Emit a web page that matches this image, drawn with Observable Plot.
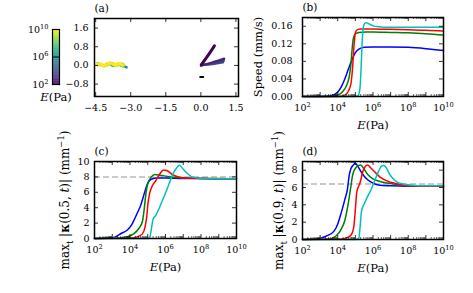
<!DOCTYPE html>
<html><head><meta charset="utf-8">
<script src="https://cdn.jsdelivr.net/npm/d3@7"></script>
<script src="https://cdn.jsdelivr.net/npm/@observablehq/plot@0.6"></script>
<style>
html,body{margin:0;padding:0;background:#fff;}
#chart{position:relative;width:473px;height:293px;overflow:hidden;background:#fff;}
#chart svg{position:absolute;left:0;top:0;font-family:'DejaVu Serif',serif !important;}
#chart svg text{font-family:'DejaVu Serif',serif;}
</style></head><body><div id="chart"></div>
<script>
const W = 473, H = 293;
const FONT = "DejaVu Serif";
const TICK_FS = 9.5, LABEL_FS = 11.5, TITLE_FS = 10.5;

// ---------- colours of the four series ----------
const seriesColors = ["#0000ff", "#008000", "#ff0000", "#00bfbf"];

// ---------- panel (b): speed (mm/s) vs log10 E ----------
const bBlueLog  = [2, 3.0, 3.5, 3.8, 4.0, 4.2, 4.4, 4.6, 4.8, 5.0, 5.2, 5.5, 6.0, 7, 8, 9, 10];
const bBlueVal  = [0, 0, 0.001, 0.004, 0.010, 0.022, 0.040, 0.062, 0.083, 0.100, 0.108, 0.112, 0.113, 0.113, 0.112, 0.109, 0.105];
const bGreenLog = [2, 3.5, 4.0, 4.3, 4.5, 4.65, 4.75, 4.82, 4.9, 5.0, 5.2, 5.6, 6, 7, 8, 9, 10];
const bGreenVal = [0, 0, 0.003, 0.012, 0.025, 0.045, 0.075, 0.110, 0.135, 0.143, 0.146, 0.147, 0.147, 0.146, 0.145, 0.143, 0.140];
const bRedLog   = [2, 4.0, 4.4, 4.6, 4.75, 4.85, 4.92, 4.98, 5.05, 5.15, 5.3, 5.6, 6, 7, 8, 9, 10];
const bRedVal   = [0, 0, 0.003, 0.012, 0.030, 0.070, 0.115, 0.140, 0.150, 0.153, 0.154, 0.154, 0.154, 0.153, 0.152, 0.151, 0.149];
const bCyanLog  = [2, 5.0, 5.15, 5.25, 5.32, 5.38, 5.45, 5.52, 5.6, 5.7, 5.85, 6.0, 6.3, 6.6, 7, 8, 9, 10];
const bCyanVal  = [0, 0, 0.002, 0.015, 0.06, 0.12, 0.158, 0.166, 0.168, 0.167, 0.164, 0.161, 0.159, 0.158, 0.158, 0.158, 0.158, 0.158];

// ---------- panel (c): max_t |kappa(0.5,t)| ----------
const cBlueLog  = [2, 2.9, 3.2, 3.5, 3.85, 4.1, 4.25, 4.45, 4.6, 4.8, 5.0, 5.2, 5.5, 6, 7, 8, 9, 10];
const cBlueVal  = [0, 0.05, 0.25, 0.65, 1.1, 1.8, 2.5, 3.5, 4.3, 5.8, 7.2, 7.7, 7.85, 7.85, 7.8, 7.8, 7.75, 7.75];
const cGreenLog = [2, 3.5, 3.9, 4.2, 4.5, 4.7, 4.8, 4.88, 4.95, 5.05, 5.2, 5.4, 5.7, 6.0, 6.5, 7, 8, 9, 10];
const cGreenVal = [0, 0.05, 0.25, 0.6, 1.3, 2.2, 3.8, 5.5, 6.6, 7.4, 8.0, 8.3, 8.2, 8.1, 7.95, 7.85, 7.8, 7.8, 7.75];
const cRedLog   = [2, 4.0, 4.4, 4.7, 4.85, 4.95, 5.0, 5.1, 5.25, 5.45, 5.65, 5.9, 6.1, 6.4, 6.8, 7.2, 8, 9, 10];
const cRedVal   = [0, 0.05, 0.2, 0.6, 1.5, 3.0, 4.3, 5.8, 6.8, 7.5, 8.3, 8.9, 8.8, 8.3, 7.95, 7.85, 7.8, 7.75, 7.75];
const cCyanLog  = [2, 5.0, 5.12, 5.2, 5.3, 5.45, 5.6, 5.8, 6.0, 6.2, 6.4, 6.6, 6.8, 7.0, 7.2, 7.5, 8, 9, 10];
const cCyanVal  = [0, 0, 0.2, 1.2, 2.5, 3.0, 3.7, 4.8, 5.9, 7.1, 8.3, 9.1, 9.5, 9.0, 8.5, 8.0, 7.8, 7.75, 7.75];
const cRef = 8.0;

// ---------- panel (d): max_t |kappa(0.9,t)| ----------
const dBlueLog  = [2, 2.8, 3.1, 3.4, 3.8, 4.0, 4.2, 4.4, 4.55, 4.65, 4.75, 4.85, 5.0, 5.15, 5.3, 5.5, 5.7, 6.0, 6.3, 7, 8, 9, 10];
const dBlueVal  = [0, 0.05, 0.2, 0.45, 1.0, 1.8, 3.1, 4.6, 5.8, 7.4, 8.2, 8.5, 8.8, 8.4, 7.9, 7.3, 6.9, 6.5, 6.3, 6.2, 6.15, 6.15, 6.15];
const dGreenLog = [2, 3.5, 3.9, 4.2, 4.4, 4.6, 4.75, 4.85, 5.0, 5.15, 5.3, 5.5, 5.7, 6.0, 6.4, 7, 7.6, 8, 9, 10];
const dGreenVal = [0, 0.05, 0.4, 1.2, 2.2, 4.2, 6.2, 7.5, 8.2, 8.5, 8.6, 8.1, 7.5, 7.0, 6.7, 6.45, 6.3, 6.2, 6.15, 6.15];
const dRedLog   = [2, 4.2, 4.5, 4.75, 4.9, 5.0, 5.08, 5.2, 5.3, 5.4, 5.55, 5.7, 5.85, 6.05, 6.4, 7, 7.7, 8, 9, 10];
const dRedVal   = [0, 0.05, 0.2, 0.5, 1.3, 3.5, 5.5, 6.2, 6.8, 7.7, 8.4, 8.6, 8.3, 7.9, 7.2, 6.6, 6.3, 6.2, 6.15, 6.15];
const dCyanLog  = [2, 5.05, 5.2, 5.27, 5.35, 5.5, 5.7, 5.9, 6.1, 6.3, 6.5, 6.6, 6.75, 6.9, 7.1, 7.4, 7.7, 8.1, 9, 10];
const dCyanVal  = [0, 0, 0.2, 1.5, 3.3, 4.1, 5.0, 5.8, 6.8, 7.8, 8.5, 8.55, 8.3, 7.7, 7.1, 6.6, 6.4, 6.3, 6.2, 6.2];
const dRef = 6.4;

// ---------- panel (a): swimmer shapes, coloured by log10 E ----------
const aYellowA = [[-4.45,0.05],[-4.3,0.08],[-4.17,-0.01],[-4.05,0.04],[-3.92,0.12],[-3.78,0.06],[-3.68,0.0],[-3.56,0.09],[-3.45,0.06],[-3.35,0.0]];
const aYellowB = [[-4.4,0.01],[-4.25,0.05],[-4.12,-0.03],[-3.98,0.02],[-3.86,0.1],[-3.72,0.07],[-3.6,-0.01],[-3.5,0.05],[-3.38,0.08],[-3.28,0.02]];
const aGreen   = [[-4.42,0.09],[-4.28,0.03],[-4.15,-0.02],[-4.0,0.08],[-3.88,0.06],[-3.74,-0.02],[-3.6,0.04],[-3.47,0.03],[-3.35,-0.03]];
const aTeal    = [[-3.45,0.02],[-3.35,0.0],[-3.25,-0.05],[-3.18,-0.08]];
const aPurple  = [[0.02,0.03],[0.3,0.42],[0.58,0.84]];
const aFanA    = [[0.0,0.0],[0.5,0.14],[1.0,0.30]];
const aFanB    = [[0.0,0.0],[0.5,0.11],[1.0,0.24]];
const aFanC    = [[0.0,0.0],[0.5,0.08],[0.98,0.18]];
const aFanD    = [[0.0,0.0],[0.5,0.05],[0.95,0.12]];
const aDash    = [[-0.03,-0.5],[0.1,-0.5]];
const aShapeLogE = [9.5, 10, 7.5, 6, 2, 2.8, 3.2, 3.6, 4.0];
const aShapeWidth = [2.8, 2.8, 2.6, 2.6, 3, 2, 2, 2, 2];

// ---------- axis ticks ----------
const aXTicks = [-4.5, -3.0, -1.5, 0.0, 1.5];
const aYTicks = [-0.8, 0.0, 0.8, 1.6];
const logMajor = [2, 3, 4, 5, 6, 7, 8, 9, 10];
const logLabels = [2, 4, 6, 8, 10];
const bYTicks = [0, 0.04, 0.08, 0.12, 0.16];
const cYTicks = [0, 2, 4, 6, 8, 10];
const dYTicks = [0, 2, 4, 6, 8];
const cbTicks = [2, 6, 10];

const logMinor = [];
for (let e = 2; e < 10; e++) for (let m = 2; m <= 9; m++) logMinor.push(m * 10 ** e);

function rows(logs, vals) { return logs.map((l, i) => ({E: 10 ** l, v: vals[i]})); }

const baseStyle = {background: "transparent", overflow: "visible", fontFamily: "'DejaVu Serif', serif", fontSize: TICK_FS + "px", color: "black"};
const T = (opts) => ({fontFamily: FONT, lineAnchor: "middle", ...opts});

function framedTicks(fw, fh, xMajor, xMinor, yMajor) {
  const m = [];
  m.push(Plot.ruleX(xMajor, {x: d => d, insetTop: fh - 4, stroke: "black", strokeWidth: 0.8}));
  m.push(Plot.ruleX(xMajor, {x: d => d, insetBottom: fh - 4, stroke: "black", strokeWidth: 0.8}));
  if (xMinor) {
    m.push(Plot.ruleX(xMinor, {x: d => d, insetTop: fh - 2, stroke: "black", strokeWidth: 0.6}));
    m.push(Plot.ruleX(xMinor, {x: d => d, insetBottom: fh - 2, stroke: "black", strokeWidth: 0.6}));
  }
  m.push(Plot.ruleY(yMajor, {y: d => d, insetRight: fw - 4, stroke: "black", strokeWidth: 0.8}));
  m.push(Plot.ruleY(yMajor, {y: d => d, insetLeft: fw - 4, stroke: "black", strokeWidth: 0.8}));
  return m;
}

function logPanel(o) {
  const fw = o.right - o.left, fh = o.bottom - o.top;
  const marks = [];
  if (o.ref != null) marks.push(Plot.ruleY([o.ref], {y: d => d, stroke: "#b8b8b8", strokeWidth: 1.5, strokeDasharray: "6,3"}));
  o.series.forEach((s, i) => marks.push(Plot.line(rows(s[0], s[1]), {x: "E", y: "v", stroke: seriesColors[i], strokeWidth: 1.5, curve: "monotone-x"})));
  marks.push(Plot.frame({stroke: "black", strokeWidth: 1.5}));
  marks.push(...framedTicks(fw, fh, logMajor.map(e => 10 ** e), logMinor, o.yticks));
  marks.push(Plot.text(logLabels, T({x: d => 10 ** d, frameAnchor: "bottom", dy: 11, textAnchor: "middle", text: d => `10^{${d}}`, fontSize: TICK_FS})));
  marks.push(Plot.text(o.yticks, T({y: d => d, frameAnchor: "left", dx: o.ytickDx, textAnchor: "end", text: o.yfmt, fontSize: TICK_FS})));
  marks.push(Plot.text(["*E*(Pa)"], T({frameAnchor: "bottom", dy: 29, textAnchor: "middle", text: d => d, fontSize: LABEL_FS})));
  marks.push(Plot.text([o.ylabel], T({frameAnchor: "left", dx: o.ylabelDx, rotate: -90, textAnchor: "middle", text: d => d, fontSize: o.ylabelFs || LABEL_FS})));
  marks.push(Plot.text([o.title], T({frameAnchor: "top-left", dy: -10, textAnchor: "start", text: d => d, fontSize: TITLE_FS})));
  return Plot.plot({
    width: W, height: H,
    marginLeft: o.left, marginRight: W - o.right, marginTop: o.top, marginBottom: H - o.bottom,
    x: {type: "log", domain: [1e2, 1e10], axis: null},
    y: {domain: o.ydomain, axis: null},
    style: baseStyle,
    marks
  });
}

const chart = document.getElementById("chart");

// ---------- panel (a) ----------
const aShapes = [aYellowB, aYellowA, aGreen, aTeal, aPurple, aFanA, aFanB, aFanC, aFanD];
const aOrder = [3, 2, 0, 1, 8, 7, 6, 5, 4];
const aRows = [];
aOrder.forEach(k => aShapes[k].forEach(([x, y]) => aRows.push({x, y, id: k, logE: aShapeLogE[k]})));
const aL = 94, aR = 238, aT = 18, aB = 96;
const aMarks = [];
aOrder.forEach(k => aMarks.push(Plot.line(aRows.filter(r => r.id === k), {x: "x", y: "y", stroke: "logE", strokeWidth: aShapeWidth[k], strokeLinecap: "round", curve: "catmull-rom"})));
aMarks.push(Plot.line(aDash, {x: d => d[0], y: d => d[1], stroke: "black", strokeWidth: 2}));
aMarks.push(Plot.frame({stroke: "black", strokeWidth: 1.5}));
aMarks.push(...framedTicks(aR - aL, aB - aT, aXTicks, null, aYTicks));
aMarks.push(Plot.text(aXTicks, T({x: d => d, frameAnchor: "bottom", dy: 11, textAnchor: "middle", text: d3.format(".1f"), fontSize: TICK_FS})));
aMarks.push(Plot.text(aYTicks, T({y: d => d, frameAnchor: "left", dx: -6, textAnchor: "end", text: d3.format(".1f"), fontSize: TICK_FS})));
aMarks.push(Plot.text(["(a)"], T({frameAnchor: "top-left", dy: -10, textAnchor: "start", text: d => d, fontSize: TITLE_FS})));
chart.append(Plot.plot({
  width: W, height: H, marginLeft: aL, marginRight: W - aR, marginTop: aT, marginBottom: H - aB,
  x: {domain: [-4.55, 1.61], axis: null},
  y: {domain: [-1.33, 2.01], axis: null},
  color: {type: "linear", scheme: "viridis", domain: [2, 10]},
  style: baseStyle,
  marks: aMarks
}));

// ---------- colour bar ----------
const cbSteps = d3.range(2, 10, 0.1);
chart.append(Plot.plot({
  width: W, height: H, marginLeft: 52, marginRight: W - 59, marginTop: 29, marginBottom: H - 84,
  x: {domain: [0, 1], axis: null},
  y: {domain: [2, 10], axis: null},
  color: {type: "linear", scheme: "viridis", domain: [2, 10]},
  style: baseStyle,
  marks: [
    Plot.rect(cbSteps, {x1: () => 0, x2: () => 1, y1: d => d - 0.01, y2: d => d + 0.11, fill: d => d + 0.05}),
    Plot.ruleY(cbTicks, {y: d => d, stroke: "black", strokeWidth: 1}),
    Plot.frame({stroke: "black", strokeWidth: 1.2}),
    Plot.text(cbTicks, T({y: d => d, frameAnchor: "left", dx: -4, textAnchor: "end", text: d => `10^{${d}}`, fontSize: TICK_FS})),
    Plot.text(["*E*(Pa)"], T({frameAnchor: "bottom", dy: 13, textAnchor: "middle", text: d => d, fontSize: LABEL_FS}))
  ]
}));

// ---------- panels (b), (c), (d) ----------
chart.append(logPanel({
  left: 302, right: 443, top: 17, bottom: 96, ydomain: [0, 0.18], yticks: bYTicks,
  yfmt: d3.format(".2f"), ytickDx: -10, ylabel: "Speed (mm/s)", ylabelDx: -44, title: "(b)",
  series: [[bBlueLog, bBlueVal], [bGreenLog, bGreenVal], [bRedLog, bRedVal], [bCyanLog, bCyanVal]]
}));
chart.append(logPanel({
  left: 94, right: 236, top: 161, bottom: 238, ydomain: [0, 10], yticks: cYTicks, ref: cRef,
  yfmt: d => String(d), ytickDx: -5, ylabel: "max_{t} |**κ**(0.5, *t*)| (mm^{−1})", ylabelDx: -29, ylabelFs: 12, title: "(c)",
  series: [[cBlueLog, cBlueVal], [cGreenLog, cGreenVal], [cRedLog, cRedVal], [cCyanLog, cCyanVal]]
}));
chart.append(logPanel({
  left: 302, right: 443, top: 161, bottom: 239, ydomain: [0, 9], yticks: dYTicks, ref: dRef,
  yfmt: d => String(d), ytickDx: -5, ylabel: "max_{t} |**κ**(0.9, *t*)| (mm^{−1})", ylabelDx: -23, ylabelFs: 12, title: "(d)",
  series: [[dBlueLog, dBlueVal], [dGreenLog, dGreenVal], [dRedLog, dRedVal], [dCyanLog, dCyanVal]]
}));

// ---------- rich text: superscripts, subscripts, italics, bold ----------
const NS = "http://www.w3.org/2000/svg";
chart.querySelectorAll("text").forEach(t => {
  if (t.querySelector("tspan")) return;
  const s = t.textContent;
  if (!/(\^\{|_\{|\*)/.test(s)) return;
  const fs = parseFloat(getComputedStyle(t).fontSize) || TICK_FS;
  const parts = s.split(/(\^\{[^}]*\}|_\{[^}]*\}|\*\*[^*]+\*\*|\*[^*]+\*)/).filter(p => p);
  t.textContent = "";
  let shift = 0;
  for (const p of parts) {
    const ts = document.createElementNS(NS, "tspan");
    let txt = p, target = 0;
    if (p.startsWith("^{")) { txt = p.slice(2, -1); target = -0.42 * fs; ts.setAttribute("font-size", (0.7 * fs) + "px"); }
    else if (p.startsWith("_{")) { txt = p.slice(2, -1); target = 0.28 * fs; ts.setAttribute("font-size", (0.7 * fs) + "px"); }
    else if (p.startsWith("**")) { txt = p.slice(2, -2); ts.setAttribute("font-weight", "bold"); }
    else if (p.startsWith("*")) { txt = p.slice(1, -1); ts.setAttribute("font-style", "italic"); }
    if (target !== shift) ts.setAttribute("dy", target - shift);
    shift = target;
    ts.textContent = txt;
    t.appendChild(ts);
  }
});
</script></body></html>
